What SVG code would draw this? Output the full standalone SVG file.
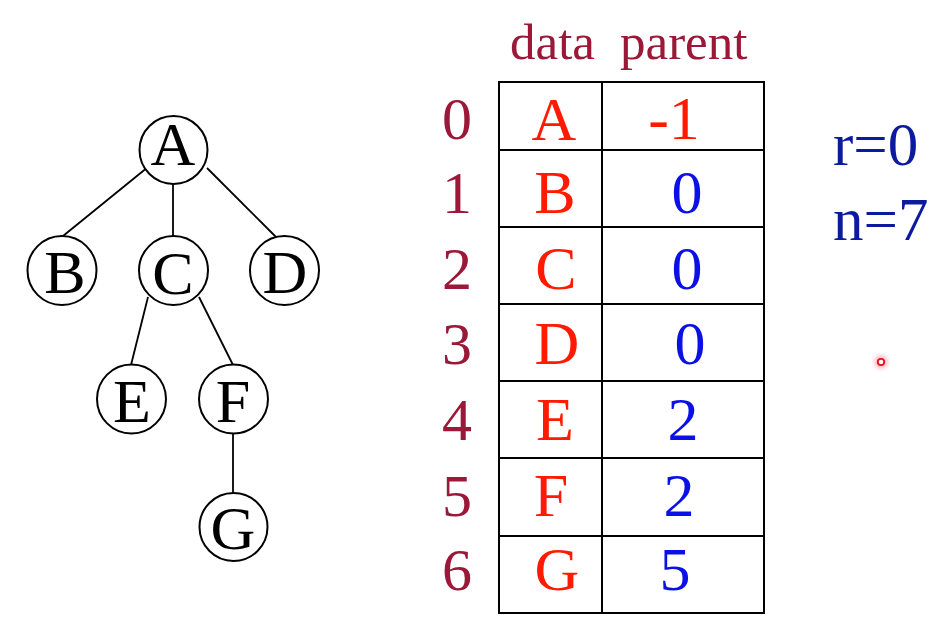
<svg xmlns="http://www.w3.org/2000/svg" width="950" height="637" viewBox="0 0 950 637">
<defs>
<style>
.node circle{fill:#fff;stroke:#000;stroke-width:2}
.node text{font-family:"Liberation Serif","Times New Roman",serif;font-size:62px;fill:#000;text-anchor:middle}
.edges line{stroke:#000;stroke-width:1.8}
.grid line, .grid rect{stroke:#000;stroke-width:2;fill:none}
.hdr{font-family:"Liberation Serif",serif;font-size:51px;fill:#9b1838}
.idx{font-family:"Liberation Serif",serif;font-size:60px;fill:#9b1838;text-anchor:middle}
.dat{font-family:"Liberation Serif",serif;font-size:62px;fill:#ff1a00;text-anchor:middle}
.par{font-family:"Liberation Serif",serif;font-size:62px;fill:#0a10e6;text-anchor:middle}
.info{font-family:"Liberation Serif",serif;font-size:61px;fill:#0c1a9e}
</style>
<radialGradient id="glow"><stop offset="0" stop-color="#ff5060" stop-opacity="0.7"/><stop offset="0.6" stop-color="#ff8090" stop-opacity="0.3"/><stop offset="1" stop-color="#ffa0b0" stop-opacity="0"/></radialGradient>
</defs>
<rect width="950" height="637" fill="#fff"/>
<g class="edges" id="connectors">
<line x1="148" y1="167" x2="63" y2="236"/>
<line x1="173" y1="184" x2="173" y2="236"/>
<line x1="207" y1="168" x2="276" y2="237"/>
<line x1="148" y1="297" x2="131" y2="365"/>
<line x1="199" y1="297" x2="233" y2="365"/>
<line x1="233" y1="433" x2="233" y2="493"/>
</g>
<g class="node" id="node-A"><circle cx="173.5" cy="150" r="34"/><text x="173" y="165">A</text></g>
<g class="node" id="node-B"><circle cx="62" cy="270.5" r="34.5"/><text x="65" y="293">B</text></g>
<g class="node" id="node-C"><circle cx="173.5" cy="270.5" r="34.5"/><text x="173" y="294">C</text></g>
<g class="node" id="node-D"><circle cx="284.5" cy="270.5" r="34.5"/><text x="285" y="293">D</text></g>
<g class="node" id="node-E"><circle cx="131.5" cy="399" r="34.5"/><text x="132" y="422">E</text></g>
<g class="node" id="node-F"><circle cx="233.5" cy="399" r="34.5"/><text x="233" y="422">F</text></g>
<g class="node" id="node-G"><circle cx="233.5" cy="527" r="34"/><text x="233" y="549">G</text></g>
<g id="table">
<text class="hdr" x="510" y="59">data</text>
<text class="hdr" x="620" y="59">parent</text>
<g class="grid">
<rect x="499" y="82" width="265" height="531"/>
<line x1="602" y1="82" x2="602" y2="613"/>
<line x1="499" y1="150" x2="764" y2="150"/>
<line x1="499" y1="227" x2="764" y2="227"/>
<line x1="499" y1="304" x2="764" y2="304"/>
<line x1="499" y1="381" x2="764" y2="381"/>
<line x1="499" y1="458" x2="764" y2="458"/>
<line x1="499" y1="536" x2="764" y2="536"/>
</g>
<text class="idx" x="457" y="139">0</text>
<text class="idx" x="457" y="213">1</text>
<text class="idx" x="457" y="289">2</text>
<text class="idx" x="457" y="364">3</text>
<text class="idx" x="457" y="440">4</text>
<text class="idx" x="457" y="516">5</text>
<text class="idx" x="457" y="590">6</text>
<text class="dat" x="554" y="140">A</text>
<text class="dat" x="555" y="213">B</text>
<text class="dat" x="556" y="289">C</text>
<text class="dat" x="557" y="364">D</text>
<text class="dat" x="555" y="440">E</text>
<text class="dat" x="551" y="516">F</text>
<text class="dat" x="557" y="590">G</text>
<text class="dat" x="674" y="139">-1</text>
<text class="par" x="687" y="213">0</text>
<text class="par" x="687" y="289">0</text>
<text class="par" x="690" y="364">0</text>
<text class="par" x="683" y="440">2</text>
<text class="par" x="679" y="516">2</text>
<text class="par" x="675" y="590">5</text>
</g>
<text class="info" x="833" y="165">r=0</text>
<text class="info" x="833" y="240">n=7</text>
<circle cx="881" cy="362" r="10" fill="url(#glow)"/>
<circle cx="881" cy="362" r="3.2" fill="#fff" stroke="#e8101a" stroke-width="1.8"/>
</svg>
